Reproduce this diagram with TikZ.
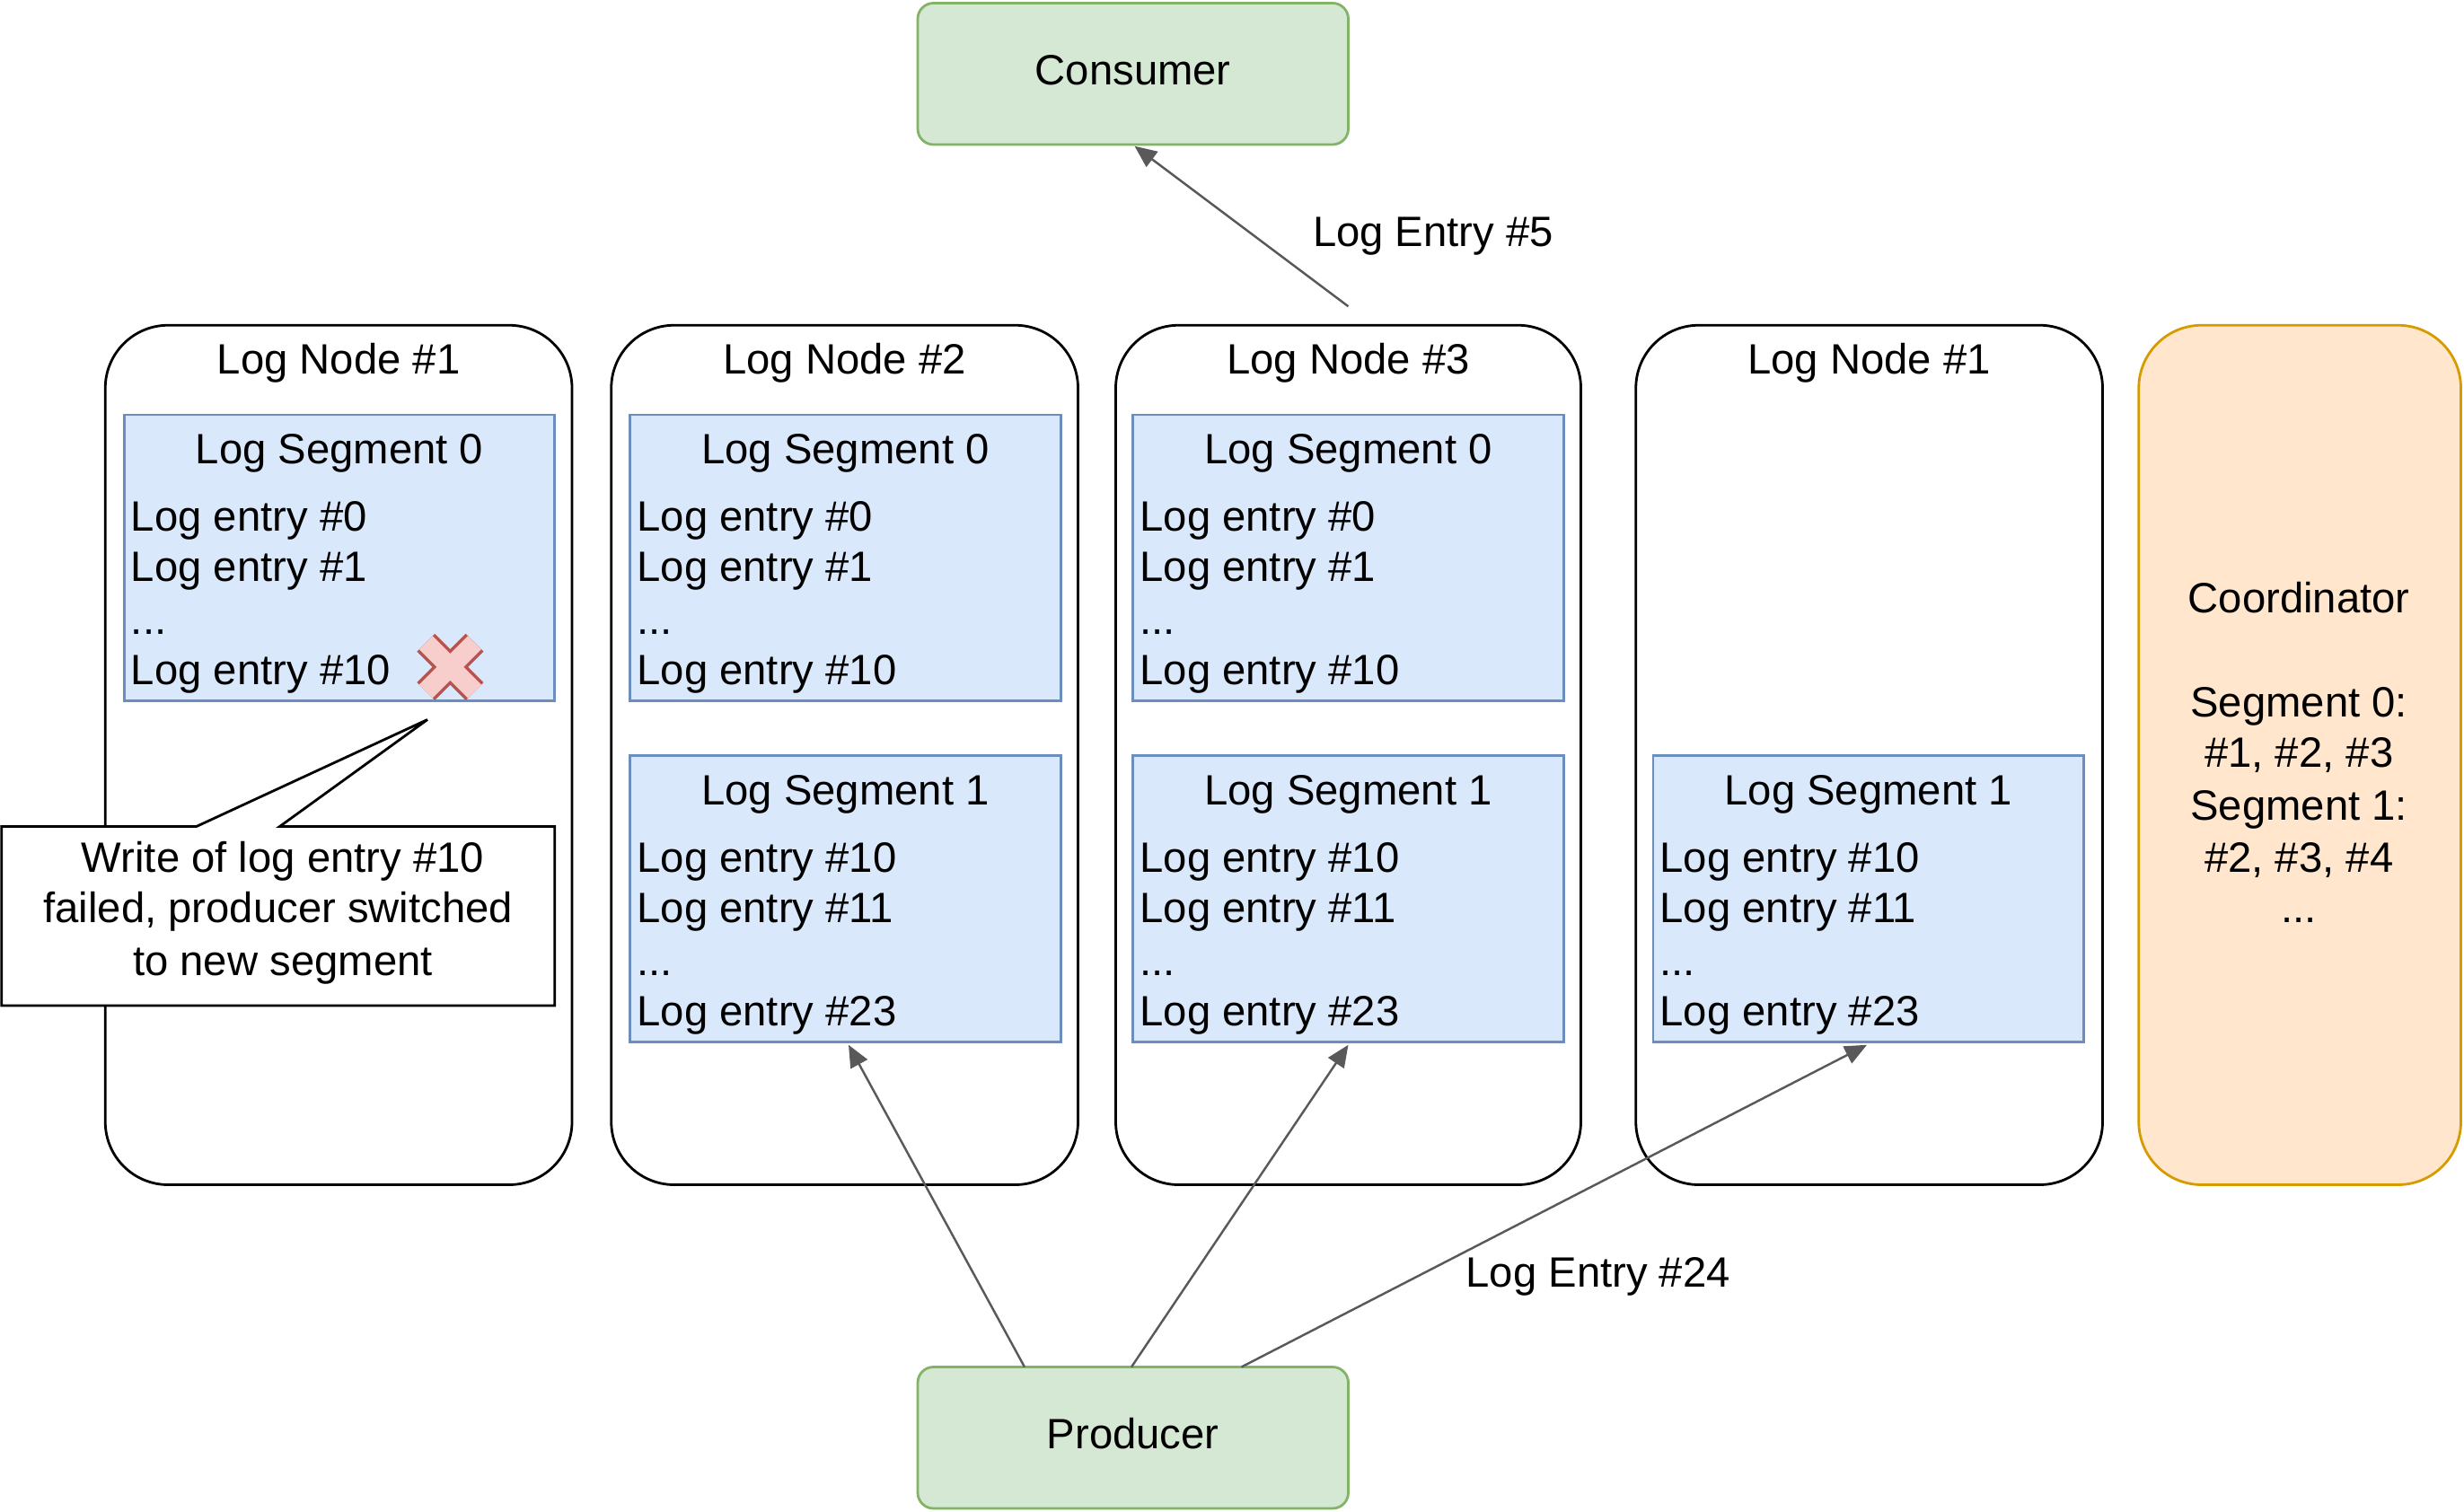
\documentclass[tikz,border=0pt]{standalone}
\usepackage{fontspec}
\setmainfont{Liberation Sans}
\usetikzlibrary{arrows.meta}
\definecolor{gfill}{HTML}{D5E8D4}\definecolor{gdraw}{HTML}{82B366}
\definecolor{bfill}{HTML}{DAE8FC}\definecolor{bdraw}{HTML}{6C8EBF}
\definecolor{ofill}{HTML}{FFE6CC}\definecolor{odraw}{HTML}{D79B00}
\definecolor{rfill}{HTML}{F8CECC}\definecolor{rdraw}{HTML}{B85450}
\definecolor{arr}{HTML}{595959}
\begin{document}
\begin{tikzpicture}[x=0.5pt,y=-0.5pt,
  font=\fontsize{13.5}{16}\selectfont,
  green/.style={draw=gdraw,fill=gfill,line width=0.8pt,rounded corners=5pt},
  lognode/.style={draw=black,line width=0.8pt,rounded corners=20pt},
  seg/.style={draw=bdraw,fill=bfill,line width=0.8pt},
  txt/.style={inner sep=0pt,anchor=base west},
  ctxt/.style={inner sep=0pt,anchor=base},
  con/.style={draw=arr,line width=0.7pt,-{Triangle[length=7pt,width=6pt]}}]
\useasboundingbox (0,0) rectangle (1568,962);
\draw[green] (584,2) rectangle (858,92);
\node[ctxt] (cons) at (721,54) {Consumer};
\draw[green] (584,870) rectangle (858,960);
\node[ctxt] (prod) at (721,922) {Producer};
% log nodes
\foreach \a/\b/\t [count=\i] in {67/364/Log Node \#1,389/686/Log Node \#2,710/1006/Log Node \#3,1041/1338/Log Node \#1}{
  \draw[lognode] (\a,207) rectangle (\b,754);
  \node[ctxt] (ln\i) at ({(\a+\b)/2},238) {\t};
}
\draw[draw=odraw,fill=ofill,line width=0.8pt,rounded corners=20pt] (1361,207) rectangle (1566,754);
\node[ctxt] (c1) at (1463,390) {Coordinator};
\node[ctxt] (c2) at (1463,456) {Segment 0:};
\node[ctxt] (c3) at (1463,488) {\#1, \#2, \#3};
\node[ctxt] (c4) at (1463,522) {Segment 1:};
\node[ctxt] (c5) at (1463,555) {\#2, \#3, \#4};
\node[ctxt] (c6) at (1463,587) {...};
% segment 0
\foreach \a in {79,401,721}{
  \draw[seg] (\a,264) rectangle (\a+274,446);
  \node[ctxt] at (\a+137,295) {Log Segment 0};
  \node[txt] at (\a+4,338) {Log entry \#0};
  \node[txt] at (\a+4,370) {Log entry \#1};
  \node[txt] at (\a+4,404) {...};
  \node[txt] at (\a+4,436) {Log entry \#10};
}
\foreach \a in {401,721,1052}{
  \draw[seg] (\a,481) rectangle (\a+274,663);
  \node[ctxt] at (\a+137,512) {Log Segment 1};
  \node[txt] at (\a+4,555) {Log entry \#10};
  \node[txt] at (\a+4,587) {Log entry \#11};
  \node[txt] at (\a+4,621) {...};
  \node[txt] at (\a+4,653) {Log entry \#23};
}
% red cross
\foreach \w/\c in {8pt/rdraw,6pt/rfill}{
  \draw[\c,line width=\w] (271,409) -- (302,440) (302,409) -- (271,440);
}
% callout
\draw[line width=0.8pt,fill=white] (1,526) -- (125,526) -- (272,458) -- (178,526) -- (353,526) -- (353,640) -- (1,640) -- cycle;
\node[ctxt] (w1) at (180,555) {Write of log entry \#10};
\node[ctxt] (w2) at (177,587) {failed, producer switched};
\node[ctxt] (w3) at (180,621) {to new segment};
% arrows
\coordinate (s3top) at (858,195);
\coordinate (ct) at (722,93);
\draw[con] (s3top) -- (ct);
\node[ctxt] (l5) at (912,157) {Log Entry \#5};
\coordinate (p1) at (652,870); \coordinate (t1) at (540,665);
\coordinate (p2) at (720,870); \coordinate (t2) at (858,665);
\coordinate (p3) at (790,870); \coordinate (t3) at (1188,665);
\draw[con] (p1) -- (t1);
\draw[con] (p2) -- (t2);
\draw[con] (p3) -- (t3);
\node[ctxt,fill=white,inner sep=1pt] (l24) at (1017,819) {Log Entry \#24};
\end{tikzpicture}
\end{document}
